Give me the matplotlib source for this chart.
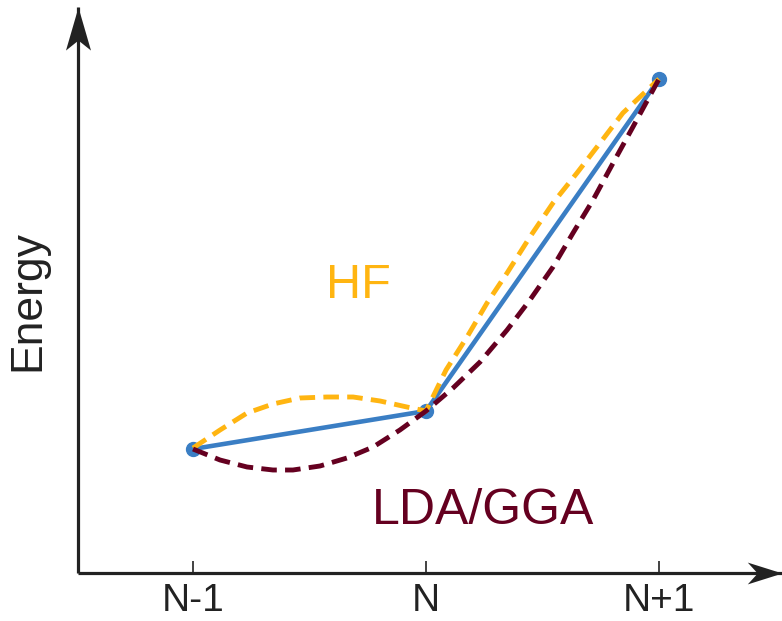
import matplotlib
matplotlib.use('Agg')
import matplotlib.pyplot as plt
from matplotlib.path import Path

plt.rcParams['font.family'] = ['Liberation Sans', 'DejaVu Sans']

# exact (piecewise linear) energies at N-1, N, N+1
Nx = [0, 1, 2]
E_exact = [1.24, 1.62, 4.94]
tick_labels = ['N-1', 'N', 'N+1']

# HF curve
hf_x = [0, 0.116, 0.232, 0.343, 0.459, 0.575, 0.687, 0.803, 0.918, 1.0,
        1.086, 1.176, 1.262, 1.348, 1.446, 1.545, 1.648, 1.747, 1.845, 2.0]
hf_y = [1.25, 1.43, 1.60, 1.69, 1.75, 1.76, 1.76, 1.72, 1.66, 1.62,
        2.03, 2.36, 2.70, 3.00, 3.36, 3.70, 4.00, 4.30, 4.60, 4.94]

# LDA/GGA curve
lda_x = [0, 0.116, 0.232, 0.343, 0.429, 0.545, 0.661, 0.773, 0.888, 1.0,
         1.116, 1.232, 1.348, 1.446, 1.545, 1.631, 1.717, 1.803, 1.888, 2.0]
lda_y = [1.24, 1.13, 1.06, 1.03, 1.03, 1.07, 1.15, 1.26, 1.43, 1.62,
         1.85, 2.11, 2.43, 2.73, 3.06, 3.40, 3.73, 4.10, 4.46, 4.94]

blue = '#3a7ec4'
orange = '#ffb511'
darkred = '#650020'
axcol = '#222222'

fig = plt.figure(figsize=(7.82, 6.21), dpi=100)
ax = fig.add_axes([78/782, 48/621, 704/782, 566/621])

ax.plot(hf_x, hf_y, color=orange, lw=3.5, dashes=(3.2, 1.7), zorder=3)
ax.plot(lda_x, lda_y, color=darkred, lw=3.5, dashes=(3.2, 1.7), zorder=3)
ax.plot(Nx, E_exact, color=blue, lw=3.3, zorder=2)
ax.plot(Nx, E_exact, 'o', color=blue, ms=10, zorder=1)

ax.set_xlim(-0.4936, 2.528)
ax.set_ylim(0, 5.66)

for s in ['top', 'right']:
    ax.spines[s].set_visible(False)
for s in ['left', 'bottom']:
    ax.spines[s].set_linewidth(2.3)
    ax.spines[s].set_color(axcol)
    ax.spines[s].set_capstyle('butt')

ax.set_xticks(Nx)
ax.set_xticklabels(tick_labels, fontsize=28, color=axcol)
ax.set_yticks([])
ax.tick_params(axis='x', direction='in', length=9, width=1.2, color=axcol, pad=7)

# arrow heads
up = Path([(0, 0), (-12.5, -43), (0, -33), (12.5, -43), (0, 0)],
          [Path.MOVETO, Path.LINETO, Path.LINETO, Path.LINETO, Path.CLOSEPOLY])
right = Path([(0, 0), (-35, 11), (-25, 0), (-35, -11), (0, 0)],
             [Path.MOVETO, Path.LINETO, Path.LINETO, Path.LINETO, Path.CLOSEPOLY])
ax.plot(0, 1, marker=up, ms=62, color=axcol, mew=0,
        transform=ax.transAxes, clip_on=False)
ax.plot(1, 0, marker=right, ms=50, color=axcol, mew=0,
        transform=ax.transAxes, clip_on=False)

ax.text(0.712, 2.88, 'HF', color=orange, fontsize=35, ha='center', va='center')
ax.text(1.245, 0.62, 'LDA/GGA', color=darkred, fontsize=36, ha='center', va='center')

fig.text(28/782, 1 - 301/621, 'Energy', rotation=90, fontsize=32, color=axcol,
         ha='center', va='center')

fig.savefig('out.png', dpi=100)
